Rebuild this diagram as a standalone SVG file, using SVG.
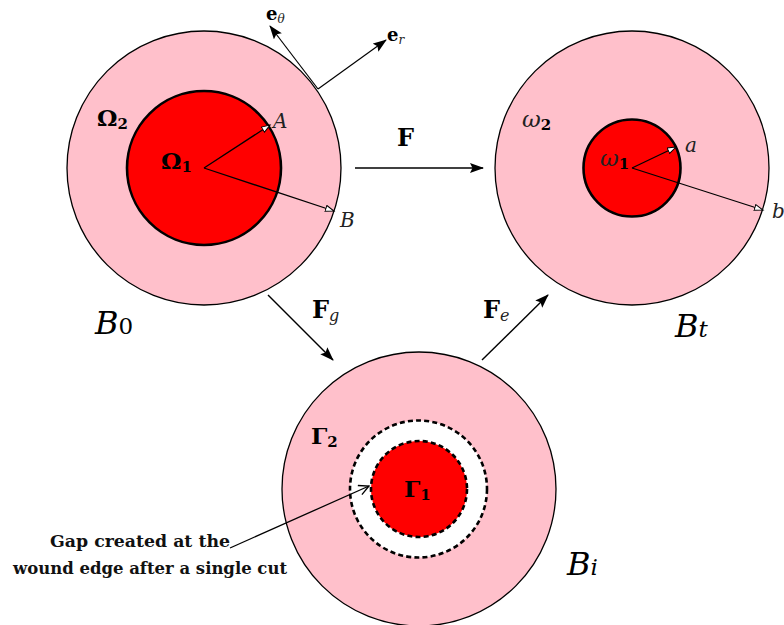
<svg xmlns="http://www.w3.org/2000/svg" width="784" height="625" viewBox="0 0 784 625">
<style>
.outer{fill:#FFC0CB;stroke:#000;stroke-width:1.3}
.inner{fill:#FF0000;stroke:#000;stroke-width:2.6}
.dash{stroke:#000;stroke-width:2.6;stroke-dasharray:5 3.2}
.rad{stroke:#000;stroke-width:1.3;fill:none;marker-end:url(#open)}
.conn{stroke:#000;stroke-width:1.4;fill:none;marker-end:url(#stealth)}
.bold{font-family:"DejaVu Serif",serif;font-weight:bold;fill:#000}
.it{font-family:"DejaVu Serif",serif;font-style:italic;fill:#222}
.cal{font-family:"DejaVu Serif",serif;font-style:italic;font-size:32px;fill:#000}
.note{font-family:"DejaVu Serif",serif;font-weight:bold;font-size:16px;fill:#111}
</style>
<defs>
<marker id="stealth" markerUnits="userSpaceOnUse" markerWidth="16" markerHeight="12" refX="13" refY="5" orient="auto">
<path d="M0,0 L14,5 L0,10 L2.5,5 z" fill="#000"/>
</marker>
<marker id="open" markerUnits="userSpaceOnUse" markerWidth="12" markerHeight="10" refX="9" refY="3.5" orient="auto">
<path d="M0.5,0.5 L9,3.5 L0.5,6.5 z" fill="#fff" stroke="#000" stroke-width="1"/>
</marker>
<marker id="vee" markerUnits="userSpaceOnUse" markerWidth="14" markerHeight="14" refX="11" refY="6" orient="auto">
<path d="M1,1 L11,6 L1,11" fill="none" stroke="#000" stroke-width="1.3"/>
</marker>
</defs>

<g id="B0">
<circle class="outer" cx="204" cy="168" r="137"/>
<circle class="inner" cx="204" cy="168" r="77"/>
<line class="rad" x1="204" y1="168" x2="270" y2="125"/>
<line class="rad" x1="204" y1="168" x2="334" y2="211"/>
<text class="it" x="273" y="128" font-size="20">A</text>
<text class="it" x="340" y="227" font-size="20">B</text>
<text class="bold" x="97" y="126" font-size="23">Ω<tspan font-size="15" dy="3">2</tspan></text>
<text class="bold" x="161" y="169" font-size="23">Ω<tspan font-size="15" dy="3">1</tspan></text>
<line x1="318" y1="89" x2="270" y2="26" stroke="#000" stroke-width="1.2" marker-end="url(#stealth)"/>
<line x1="318" y1="89" x2="386" y2="40" stroke="#000" stroke-width="1.2" marker-end="url(#stealth)"/>
<text class="bold" x="266" y="20" font-size="18">e<tspan class="it" font-weight="normal" font-size="12" dy="3">θ</tspan></text>
<text class="bold" x="387" y="41" font-size="18">e<tspan class="it" font-weight="normal" font-size="12" dy="3">r</tspan></text>
<text class="cal" x="95" y="334">B<tspan font-style="normal" font-size="23" dy="0">0</tspan></text>
</g>

<g id="Bt">
<circle class="outer" cx="632" cy="168" r="137"/>
<circle class="inner" cx="632" cy="168" r="48.5"/>
<line class="rad" x1="632" y1="168" x2="676" y2="147"/>
<line class="rad" x1="632" y1="168" x2="763" y2="210"/>
<text class="it" x="685" y="152" font-size="20">a</text>
<text class="it" x="772" y="218" font-size="20">b</text>
<text class="it" x="522" y="127" font-size="23" fill="#000">ω<tspan class="bold" font-style="normal" font-size="15" dy="3">2</tspan></text>
<text class="it" x="600" y="166" font-size="23" fill="#000">ω<tspan class="bold" font-style="normal" font-size="15" dy="3">1</tspan></text>
<text class="cal" x="675" y="337">B<tspan font-size="23">t</tspan></text>
</g>

<g id="Bi">
<circle class="outer" cx="419" cy="489" r="137"/>
<circle class="dash" cx="418.5" cy="489" r="68.5" fill="#fff"/>
<circle class="dash" cx="419" cy="489" r="48" fill="#FF0000"/>
<text class="bold" x="311" y="444" font-size="23">Γ<tspan font-size="15" dy="3">2</tspan></text>
<text class="bold" x="404" y="497" font-size="23">Γ<tspan font-size="15" dy="3">1</tspan></text>
<text class="cal" x="567" y="575">B<tspan font-size="23">i</tspan></text>
</g>

<g id="annotation">
<line x1="230" y1="548" x2="369" y2="486" stroke="#000" stroke-width="1.3" marker-end="url(#vee)"/>
<text class="note" x="50" y="547" textLength="180" lengthAdjust="spacingAndGlyphs">Gap created at the</text>
<text class="note" x="13" y="574" textLength="274" lengthAdjust="spacingAndGlyphs">wound edge after a single cut</text>
</g>

<g id="connectors">
<line class="conn" x1="355" y1="168" x2="483" y2="168"/>
<line class="conn" x1="268" y1="295" x2="333" y2="360"/>
<line class="conn" x1="482" y1="360" x2="548" y2="295"/>
<text class="bold" x="397" y="146" font-size="24">F</text>
<text class="bold" x="312" y="318" font-size="24">F<tspan class="it" font-weight="normal" font-size="16" dy="3">g</tspan></text>
<text class="bold" x="483" y="318" font-size="24">F<tspan class="it" font-weight="normal" font-size="16" dy="3">e</tspan></text>
</g>
</svg>
